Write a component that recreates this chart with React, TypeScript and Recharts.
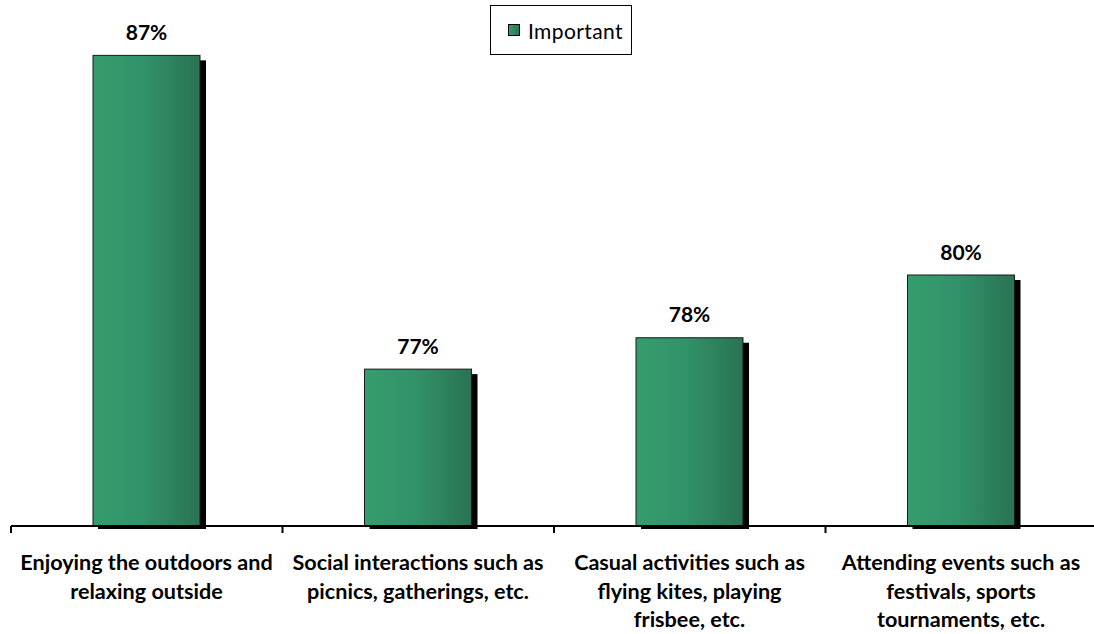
import { BarChart, Bar, XAxis, YAxis, LabelList, Legend } from "recharts"

// category captions, already split into the lines they wrap to
const categoryLabels = [
  ["Enjoying the outdoors and", "relaxing outside"],
  ["Social interactions such as", "picnics, gatherings, etc."],
  ["Casual activities such as", "flying kites, playing", "frisbee, etc."],
  ["Attending events such as", "festivals, sports", "tournaments, etc."],
]

const importantPct = [87, 77, 78, 80]
const seriesName = "Important"
const valueDomain = [72, 88]

// bars sit in the middle of each slot on a numeric axis so the
// tick marks can fall on the slot boundaries
const rows = categoryLabels.map((lines, i) => ({
  slot: i + 0.5,
  lines,
  important: importantPct[i],
}))
const slotEdges = categoryLabels.map((_, i) => i).concat(categoryLabels.length)

const FONT = "Lato, 'Open Sans', sans-serif"

function ShadowBar(props: any) {
  const { x, y, width, height } = props
  if (!height || height <= 0) return null
  return (
    <g>
      <rect x={x + 5} y={y + 5} width={width + 1} height={height - 2} fill="#000" />
      <rect
        x={x}
        y={y}
        width={width}
        height={height}
        fill="url(#barFill)"
        stroke="#1b1b1b"
        strokeWidth={1}
      />
    </g>
  )
}

function PctLabel(props: any) {
  const box = props.viewBox || props
  const { x, y, width } = box
  return (
    <text
      x={x + width / 2}
      y={y - 24}
      textAnchor="middle"
      dominantBaseline="central"
      fontFamily={FONT}
      fontWeight={700}
      fontSize={21}
      fill="#000"
    >
      {props.value}%
    </text>
  )
}

function CategoryLabel(props: any) {
  const box = props.viewBox || props
  const { x, y, width, height } = box
  const lines = categoryLabels[props.index] || []
  const cx = x + width / 2
  const first = y + height + 36
  return (
    <text
      textAnchor="middle"
      dominantBaseline="central"
      fontFamily={FONT}
      fontWeight={700}
      fontSize={21.6}
      fill="#000"
    >
      {lines.map((line, k) => (
        <tspan key={k} x={cx} y={first + k * 28.5}>
          {line}
        </tspan>
      ))}
    </text>
  )
}

function LegendBox() {
  return (
    <div
      style={{
        display: "inline-flex",
        alignItems: "center",
        boxSizing: "border-box",
        height: 50,
        width: 142,
        paddingLeft: 17,
        border: "1px solid #000",
        background: "#fff",
        fontFamily: FONT,
        fontSize: 21,
        letterSpacing: 0.4,
        color: "#000",
      }}
    >
      <span
        style={{
          display: "inline-block",
          width: 10,
          height: 10,
          marginRight: 8,
          border: "1.5px solid #000",
          background: "linear-gradient(90deg, #349c6c, #2a7552)",
        }}
      />
      {seriesName}
    </div>
  )
}

export default function App() {
  return (
    <div style={{ position: "absolute", left: 0, top: 0, width: 1094, height: 634, overflow: "hidden", background: "#fff" }}>
      <BarChart
        width={1098}
        height={634}
        data={rows}
        margin={{ top: 24, right: 1, left: 11, bottom: 78 }}
      >
        <defs>
          <linearGradient id="barFill" x1="0" y1="0" x2="1" y2="0">
            <stop offset="0%" stopColor="#359d6d" />
            <stop offset="45%" stopColor="#32936a" />
            <stop offset="100%" stopColor="#2a7352" />
          </linearGradient>
        </defs>
        <YAxis hide type="number" domain={valueDomain} />
        <XAxis
          type="number"
          dataKey="slot"
          domain={[0, categoryLabels.length]}
          ticks={slotEdges}
          tickFormatter={() => ""}
          tickSize={7}
          height={30}
          axisLine={{ stroke: "#000", strokeWidth: 2 }}
          tickLine={{ stroke: "#000", strokeWidth: 2 }}
        />
        <Legend
          verticalAlign="middle"
          align="center"
          layout="horizontal"
          content={<LegendBox />}
          wrapperStyle={{ top: 5, left: 490, width: "auto", height: "auto" }}
        />
        <Bar
          dataKey="important"
          name={seriesName}
          barSize={107}
          shape={<ShadowBar />}
          isAnimationActive={false}
        >
          <LabelList dataKey="important" content={<PctLabel />} />
          <LabelList dataKey="important" content={<CategoryLabel />} />
        </Bar>
      </BarChart>
    </div>
  )
}
